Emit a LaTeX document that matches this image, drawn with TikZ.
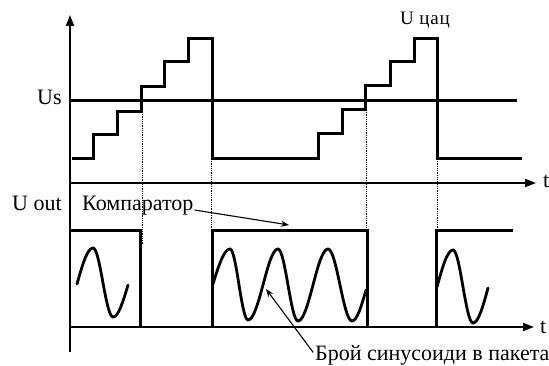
\documentclass[tikz,border=0pt]{standalone}
\usepackage{fontspec}
\setmainfont{Liberation Serif}
\usetikzlibrary{arrows.meta}
\begin{document}
\begin{tikzpicture}[x=1pt,y=-1pt,
  sig/.style={line width=3pt, line join=miter, line cap=butt},
  wave/.style={line width=2.8pt, line cap=round},
  axis/.style={line width=2pt,-{Triangle[length=11pt,width=8pt]}},
  guide/.style={densely dotted, line width=0.8pt},
  leader/.style={line width=1.1pt,-{Stealth[length=8pt,width=6pt]}},
  lbl/.style={font=\fontsize{22}{26}\selectfont, inner sep=0pt, anchor=base west},
  small/.style={font=\fontsize{19}{22}\selectfont\addfontfeature{LetterSpace=4}, inner sep=0pt, anchor=base west},
]
\useasboundingbox (0,0) rectangle (549,366);

% dotted guides
\draw[guide] (142.5,112) -- (142.5,245);
\draw[guide] (211,159) -- (211,245);
\draw[guide] (366,110) -- (366,245);
\draw[guide] (437,159) -- (437,245);

% axes
\draw[axis] (70,352) -- (70,15);
\draw[axis] (70,183) -- (536,183);
\draw[axis] (70,327) -- (534,327);

% threshold Us
\draw[sig] (70,101) -- (517,101);

% staircase
\draw[sig] (72,159) -- (93,159) -- (93,135) -- (117,135) -- (117,112) -- (141,112)
  -- (141,87) -- (164,87) -- (164,62) -- (188,62) -- (188,39) -- (212,39) -- (212,159)
  -- (318,159) -- (318,134) -- (342,134) -- (342,110) -- (365,110) -- (365,86)
  -- (390,86) -- (390,62) -- (414,62) -- (414,39) -- (437,39) -- (437,159) -- (522,159);

% comparator output
\draw[sig] (70,231) -- (140,231) -- (140,327);
\draw[sig] (212,327) -- (212,231) -- (367,231) -- (367,327);
\draw[sig] (436,327) -- (436,231) -- (513,231);

% sine packets
\draw[wave] (77,284) sin (93,248) cos (103,283) sin (113,317) cos (128,285);
\draw[wave] (213,284) sin (230,249) cos (239,285) sin (248,320) cos (263,285)
  sin (278,249) cos (288,285) sin (298,321) cos (313,285)
  sin (328,249) cos (340,285) sin (352,321) cos (366,290);
\draw[wave] (437,287) sin (453,250) cos (463,287) sin (473,323) cos (488,288);

% labels
\node[lbl] (us) at (37,105) {Us};
\node[small] (ucap) at (400,25) {U цац};
\node[lbl] (uout) at (12,211) {U out};
\node[lbl] (komp) at (82,211) {Компаратор};
\node[lbl] (t1) at (543,188) {t};
\node[lbl] (t2) at (540,333) {t};
\node[lbl] (broi) at (315,360) {Брой синусоиди в пакета};

\coordinate (kompTip) at (289,225);
\coordinate (broiTip) at (266,289);
\draw[leader] (komp.base east) ++(1,-1) -- (kompTip);
\draw[leader, shorten <=3pt] (broi.west) -- (broiTip);
\end{tikzpicture}
\end{document}
